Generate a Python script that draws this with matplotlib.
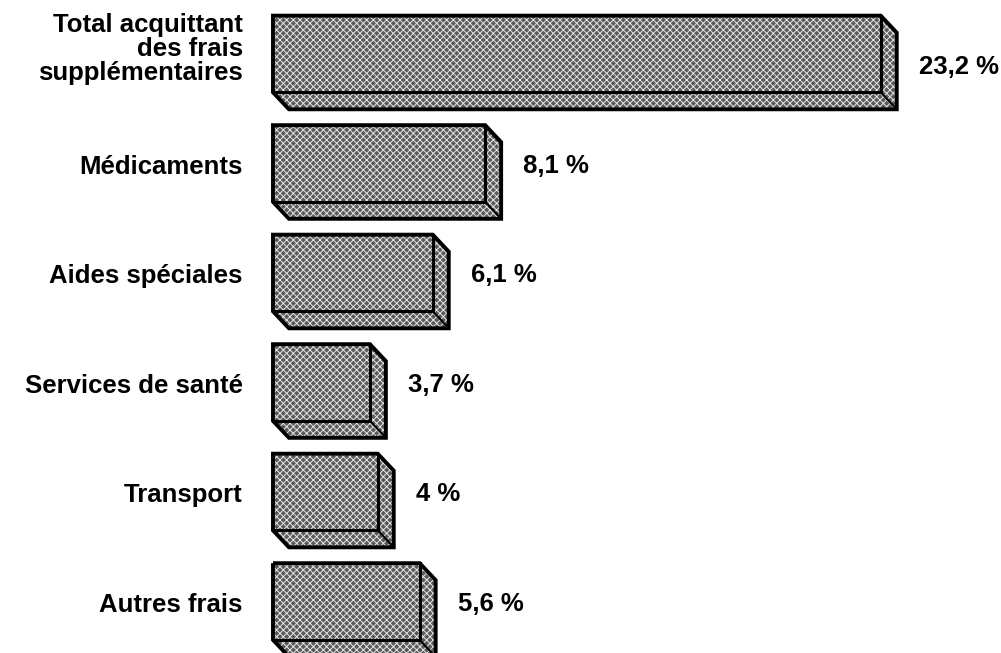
import matplotlib.pyplot as plt
from matplotlib.patches import Polygon

labels = ['Total acquittant\ndes frais\nsupplémentaires', 'Médicaments', 'Aides spéciales',
          'Services de santé', 'Transport', 'Autres frais']
values = [23.2, 8.1, 6.1, 3.7, 4.0, 5.6]

plt.rcParams['font.family'] = ['Liberation Sans', 'DejaVu Sans']
plt.rcParams['hatch.linewidth'] = 0.7

fig = plt.figure(figsize=(10.01, 6.53), dpi=100)
ax = fig.add_axes([0, 0, 1, 1])
ax.set_xlim(-10.42, 27.79)
ax.set_ylim(5.47, -0.493)
ax.axis('off')

height = 0.70
dx = 0.61  # depth of the box, to the right
dy = 0.155  # depth of the box, downwards
face = '#5a5a5a'
dots = '#e6e6e6'

for i, (label, value) in enumerate(zip(labels, values)):
    top = i - height / 2
    bottom = i + height / 2
    # outline of the whole box: front + right side + bottom side
    outline = [(0, top), (value, top), (value + dx, top + dy), (value + dx, bottom + dy),
               (dx, bottom + dy), (0, bottom)]
    ax.add_patch(Polygon(outline, closed=True, facecolor=face, edgecolor=dots,
                         hatch='xxxxx', lw=0, zorder=2))
    ax.add_patch(Polygon(outline, closed=True, fill=False, edgecolor='black',
                         lw=2.8, joinstyle='miter', zorder=3))
    # inner edges of the front face
    ax.plot([value, value, 0], [top, bottom, bottom], color='black', lw=2.2, zorder=3)
    ax.plot([value, value + dx], [bottom, bottom + dy], color='black', lw=1.5, zorder=3)

    ax.text(-1.15, i + 0.03 if i else i - 0.05, label, ha='right', va='center',
            multialignment='right', fontsize=18.5, fontweight='bold', linespacing=1.0)
    text = f'{value:g}'.replace('.', ',') + ' %'
    ax.text(value + dx + 0.85, i + 0.12 if i == 0 else i + 0.02, text, ha='left', va='center',
            fontsize=18.5, fontweight='bold')

fig.savefig('out.png', dpi=100)
